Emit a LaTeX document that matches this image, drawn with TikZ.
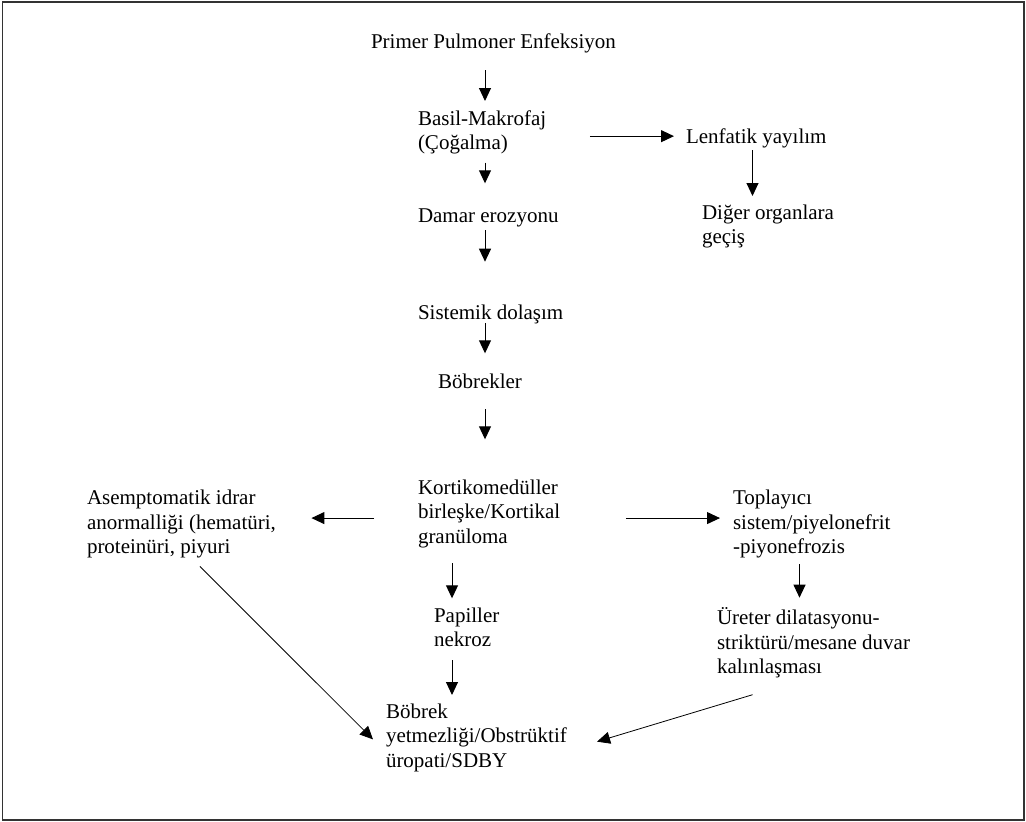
\documentclass[tikz,border=0pt]{standalone}
\usepackage{fontspec}
\setmainfont{Liberation Serif}
\usetikzlibrary{arrows.meta}

\begin{document}
\begin{tikzpicture}[
		x=1pt,
		y=-1pt,
		font=\fontsize{21pt}{24.5pt}\selectfont,
		>={Triangle[length=13pt,width=12pt]},
	]
		\tikzset{txt/.style={
			inner sep=0,
			outer sep=0,
			align=left,
			anchor=north west,
			execute at begin node=\strut,
			execute at end node=\strut,
		}}
		\tikzset{arr/.style={
			->,
			line width=1pt,
		}}
		\tikzset{diag/.style={
			->,
			line width=0.8pt,
		}}

		\useasboundingbox (0,0) rectangle (1026,822);
		\draw[line width=1.2pt, black!80] (2.5,2) rectangle (1024,820);

		\coordinate (spineA) at (485,0);
		\coordinate (spineB) at (752.5,0);
		\coordinate (spineC) at (452,0);
		\coordinate (spineD) at (799.5,0);

		%---------------------------------
		% Lung to kidney
		\node[txt] (primer) at (371,30.9) {Primer Pulmoner Enfeksiyon};
		\node[txt] (basil) at (418,110.3) {Basil-Makrofaj\\(Çoğalma)};
		\node[txt] (damar) at (418,204.9) {Damar erozyonu};
		\node[txt] (sistemik) at (418,301.9) {Sistemik dolaşım};
		\node[txt] (bobrekler) at (438,370.9) {Böbrekler};

		\draw[arr, shorten <=14.6pt, shorten >=9.3pt] (primer.south -| spineA) -- (basil.north -| spineA);
		\draw[arr, shorten <=5.6pt, shorten >=21.6pt] (basil.south -| spineA) -- (damar.north -| spineA);
		\draw[arr, shorten <=0.6pt, shorten >=40.2pt] (damar.south -| spineA) -- (sistemik.north -| spineA);
		\draw[arr, shorten <=-3.6pt, shorten >=17.6pt] (sistemik.south -| spineA) -- (bobrekler.north -| spineA);

		%---------------------------------
		% Lymphatic
		\node[txt] (lenfatik) at (686,125.9) {Lenfatik yayılım};
		\node[txt] (diger) at (702,204.9) {Diğer organlara\\geçiş};
		\coordinate (lenfIn) at ([yshift=2pt]lenfatik.west);

		\draw[arr, shorten <=43.5pt, shorten >=12pt] (basil.east |- lenfIn) -- (lenfIn);
		\draw[arr, shorten >=8.9pt] (lenfatik.south -| spineB) -- (diger.north -| spineB);

		%---------------------------------
		% Kidney
		\node[txt] (kortiko) at (418,479.9) {Kortikomedüller\\birleşke/Kortikal\\granüloma};
		\node[txt] (asemp) at (87,490.4) {Asemptomatik idrar\\anormalliği (hematüri,\\proteinüri, piyuri};
		\node[txt] (toplayici) at (733,490.4) {Toplayıcı\\sistem/piyelonefrit\\-piyonefrozis};
		\node[txt] (papiller) at (434,607.9) {Papiller\\nekroz};
		\node[txt] (ureter) at (717,607.9) {Üreter dilatasyonu-\\striktürü/mesane duvar\\kalınlaşması};
		\node[txt] (yetmezlik) at (386,703.9) {Böbrek\\yetmezliği/Obstrüktif\\üropati/SDBY};
		\coordinate (kortW) at ([yshift=-2.7pt]kortiko.west);
		\coordinate (kortE) at ([yshift=-2.7pt]kortiko.east);
		\coordinate (asempOut) at ([xshift=13.3pt]asemp.south);
		\coordinate (ureterOut) at ([xshift=-16.4pt]ureter.south);
		\coordinate (yetW) at ([yshift=-13pt]yetmezlik.west);
		\coordinate (yetE) at ([yshift=-11.4pt]yetmezlik.east);

		\draw[arr, shorten <=14pt, shorten >=40.6pt] (bobrekler.south -| spineA) -- (kortiko.north -| spineA);
		\draw[arr, shorten <=44pt, shorten >=35.5pt] (kortW) -- (kortW -| asemp.east);
		\draw[arr, shorten <=65.7pt, shorten >=13pt] (kortE) -- (kortE -| toplayici.west);
		\draw[arr, shorten <=12.6pt, shorten >=9.6pt] (kortiko.south -| spineC) -- (papiller.north -| spineC);
		\draw[arr, shorten <=5.8pt, shorten >=8.9pt] (papiller.south -| spineC) -- (yetmezlik.north -| spineC);
		\draw[arr, shorten <=2.8pt, shorten >=10.2pt] (toplayici.south -| spineD) -- (ureter.north -| spineD);

		\draw[diag, shorten <=7.3pt, shorten >=18.4pt] (asempOut) -- (yetW);
		\draw[diag, shorten <=46.5pt, shorten >=31.6pt] (ureterOut) -- (yetE);
	\end{tikzpicture}
\end{document}
